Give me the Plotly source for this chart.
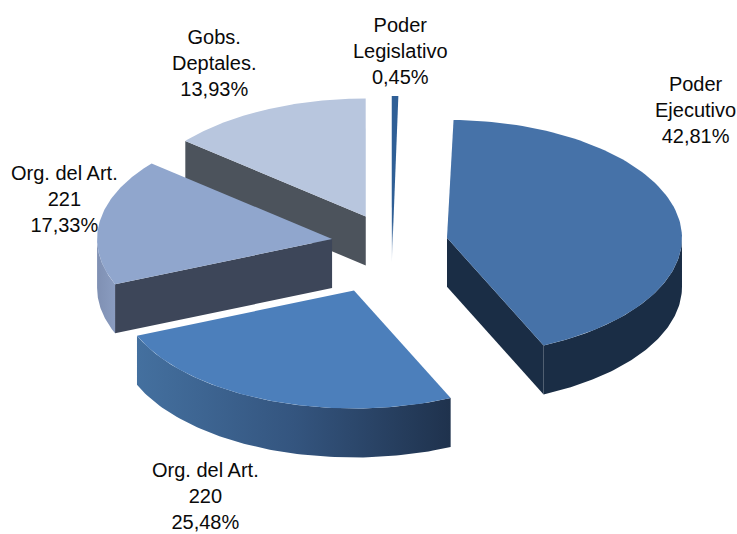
import numpy as np
import plotly.graph_objects as go

names = ["Poder<br>Ejecutivo", "Org. del Art.<br>220", "Org. del Art.<br>221", "Gobs.<br>Deptales.", "Poder<br>Legislativo"]
values = [42.81, 25.48, 17.33, 13.93, 0.45]
percent_labels = ["42,81%", "25,48%", "17,33%", "13,93%", "0,45%"]
explode = [0.243, 0.428, 0.2536, 0.253, 0.25]

# pie styling (projection of the tilted disc, in pixels)
CX, CY, RX, RY, DEPTH = 391, 243.5, 235, 118, 49
START = 1.6
top_colors = ["#4672a8", "#4c7fbb", "#90a6cd", "#b8c6de", "#2f5f96"]
cut_colors = ["#1a2d45", None, "#3d4659", "#4c535c", None]
cut_edge = [1, 0, 0, 0, 0]  # which radial edge of the slice shows its cut face
rim_scales = [
    [[0, "#1a2d45"], [1, "#1a2d45"]],
    [[0, "#44709f"], [0.5, "#34557f"], [1, "#1f324d"]],
    [[0, "#7f90b3"], [1, "#8a9cc0"]],
    None, None,
]
label_pos = [(695, 110), (205, 496), (64, 199), (214, 63), (400, 51)]
draw_order = [3, 4, 2, 0, 1]


def pt(deg, apex):
    a = np.radians(deg)
    return apex[0] + RX * np.sin(a), apex[1] - RY * np.cos(a)


def poly(xs, ys, color=None, scale=None, name=""):
    kw = dict(fillcolor=color)
    if scale is not None:
        kw = dict(fillgradient=dict(type="horizontal", colorscale=scale))
    return go.Scatter(x=xs, y=ys, mode="lines", fill="toself", line=dict(width=0),
                      hoverinfo="text", text=name, showlegend=False, **kw)


total = sum(values)
spans = []
cur = START
for v in values:
    spans.append((cur, cur + 360 * v / total))
    cur = spans[-1][1]

fig = go.Figure()
for i in draw_order:
    a0, a1 = spans[i]
    mid = np.radians((a0 + a1) / 2)
    apex = (CX + explode[i] * RX * np.sin(mid), CY - explode[i] * RY * np.cos(mid))
    label = names[i].replace("<br>", " ")
    # cut face
    if cut_colors[i]:
        rx, ry = pt(a1 if cut_edge[i] else a0, apex)
        fig.add_trace(poly([apex[0], rx, rx, apex[0], apex[0]],
                           [apex[1], ry, ry + DEPTH, apex[1] + DEPTH, apex[1]],
                           cut_colors[i], name=label))
    # outer rim, only the part that faces the viewer
    lo, hi = max(a0, 90), min(a1, 270)
    if rim_scales[i] is not None and lo < hi:
        t = np.linspace(lo, hi, 80)
        xs, ys = pt(t, apex)
        fig.add_trace(poly(np.r_[xs, xs[::-1]], np.r_[ys, ys[::-1] + DEPTH],
                           scale=rim_scales[i], name=label))
    # top face
    t = np.linspace(a0, a1, 100)
    xs, ys = pt(t, apex)
    if i == 4:
        # the sliver tapers down to the lower tip of the slice
        fig.add_trace(go.Scatter(
            x=np.r_[apex[0], xs, apex[0]], y=np.r_[apex[1] + DEPTH, ys, apex[1] + DEPTH],
            mode="lines", fill="toself", line=dict(width=0), hoverinfo="text", text=label,
            showlegend=False,
            fillgradient=dict(type="vertical", colorscale=[[0, "#dfe6f0"], [0.25, "#2f5f96"], [1, "#2f5f96"]])))
    else:
        fig.add_trace(poly(np.r_[apex[0], xs, apex[0]], np.r_[apex[1], ys, apex[1]],
                           top_colors[i], name=label))
    # label
    fig.add_annotation(x=label_pos[i][0], y=label_pos[i][1], xref="x", yref="y",
                       text=f"{names[i]}<br>{percent_labels[i]}",
                       showarrow=False, xanchor="center", yanchor="middle",
                       font=dict(family="Liberation Sans", size=20, color="#0a0a0a"))

fig.update_layout(
    width=737, height=534, margin=dict(l=0, r=0, t=0, b=0), paper_bgcolor="white",
    plot_bgcolor="white", showlegend=False,
    xaxis=dict(range=[0, 737], visible=False, fixedrange=True),
    yaxis=dict(range=[534, 0], visible=False, fixedrange=True),
)
fig.write_html("out.html", config={"displayModeBar": False},
               post_script="document.body.style.margin='0';document.documentElement.style.overflow='hidden';")
